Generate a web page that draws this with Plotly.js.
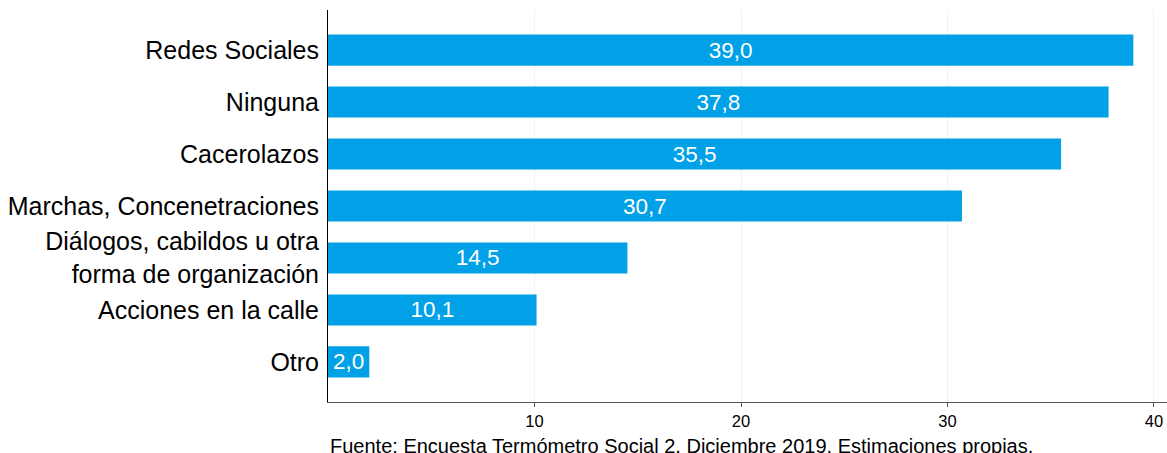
<!DOCTYPE html>
<html>
<head>
<meta charset="utf-8">
<script src="https://cdn.plot.ly/plotly-3.0.1.min.js"></script>
<style>html,body{margin:0;padding:0;background:#fff;}</style>
</head>
<body>
<div id="chart" style="width:1167px;height:453px;"></div>
<script>
const categories = ["Redes Sociales", "Ninguna", "Cacerolazos", "Marchas, Concenetraciones", "Diálogos, cabildos u otra<br>forma de organización", "Acciones en la calle", "Otro"];
const values = [39.0, 37.8, 35.5, 30.7, 14.5, 10.1, 2.0];
const labels = ["39,0", "37,8", "35,5", "30,7", "14,5", "10,1", "2,0"];
const xTicks = [10, 20, 30, 40];

const trace = {
  type: 'bar',
  orientation: 'h',
  y: categories,
  x: values,
  text: labels,
  textposition: 'inside',
  insidetextanchor: 'middle',
  textangle: 0,
  constraintext: 'none',
  textfont: {family: 'Liberation Sans, Arial, sans-serif', size: 22.5, color: '#ffffff'},
  marker: {color: '#00A1E6'},
  hoverinfo: 'none'
};

const layout = {
  width: 1167, height: 453,
  margin: {l: 328, r: 0, t: 10, b: 51},
  paper_bgcolor: '#ffffff', plot_bgcolor: '#ffffff',
  bargap: 0.4,
  showlegend: false,
  font: {family: 'Liberation Sans, Arial, sans-serif', color: '#000'},
  xaxis: {
    range: [0, 40.63],
    tickvals: xTicks,
    ticktext: xTicks.map(String),
    ticks: 'outside', ticklen: 4, tickcolor: '#555',
    tickfont: {size: 16.5, color: '#000'},
    showgrid: true, gridcolor: '#eef4f4', gridwidth: 1,
    showline: true, linecolor: '#555', linewidth: 1,
    zeroline: false, fixedrange: true
  },
  yaxis: {
    categoryorder: 'array', categoryarray: categories,
    autorange: false,
    range: [6.77, -0.77],
    showline: true, linecolor: '#000', linewidth: 1,
    ticks: '', ticklabelstandoff: 3,
    tickfont: {size: 25, color: '#000'},
    showgrid: false, zeroline: false, fixedrange: true
  },
  annotations: [{
    text: 'Fuente: Encuesta Termómetro Social 2, Diciembre 2019. Estimaciones propias.',
    xref: 'paper', yref: 'paper', x: 0, y: -0.145, xanchor: 'left', yanchor: 'bottom',
    showarrow: false, font: {size: 20, color: '#000'}
  }]
};

Plotly.newPlot('chart', [trace], layout, {displayModeBar: false, staticPlot: true});
</script>
</body>
</html>
